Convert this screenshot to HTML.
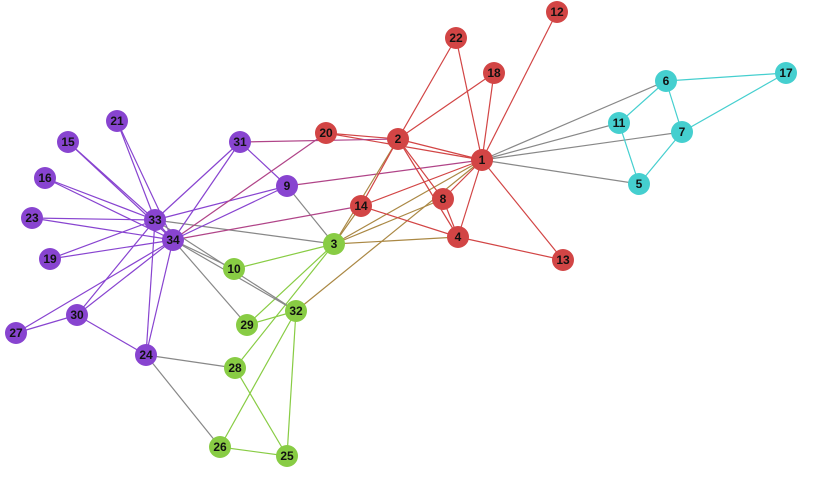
<!DOCTYPE html>
<html><head><meta charset="utf-8"><style>
html,body{margin:0;padding:0;background:#fff;}
svg{display:block}
text{font-family:"Liberation Sans",sans-serif;font-size:12px;font-weight:bold;fill:#111;text-anchor:middle;dominant-baseline:central}
</style></head><body>
<svg width="825" height="489" viewBox="0 0 825 489" id="g"></svg>
<script>
const P={1:[482,160],2:[398,139],3:[334,244],4:[458,237],5:[639,184],6:[666,81],7:[682,132],8:[443,199],9:[287,186],10:[234,269],11:[619,123],12:[557,12],13:[563,260],14:[361,206],15:[68,142],16:[45,178],17:[786,73],18:[494,73],19:[50,259],20:[326,133],21:[117,121],22:[456,38],23:[32,218],24:[146,355],25:[287,456],26:[220,447],27:[16,333],28:[235,368],29:[247,325],30:[77,315],31:[240,142],32:[296,311],33:[155,220],34:[173,240]};
const G={};[1,2,4,8,12,13,14,18,20,22].forEach(n=>G[n]='r');[5,6,7,11,17].forEach(n=>G[n]='c');[3,10,25,26,28,29,32].forEach(n=>G[n]='g');[9,15,16,19,21,23,24,27,30,31,33,34].forEach(n=>G[n]='p');
const NC={r:'#d24545',c:'#45cfcf',g:'#88cc44',p:'#8844d0'};
const EC={rr:'#d24545',cc:'#45cfcf',gg:'#88cc44',pp:'#8844d0',cr:'#888',gr:'#aa8844',pr:'#b04488',gp:'#888'};
const A={1:[2,3,4,5,6,7,8,9,11,12,13,14,18,20,22,32],2:[3,4,8,14,18,20,22,31],3:[4,8,9,10,14,28,29,33],4:[8,13,14],5:[7,11],6:[7,11,17],7:[17],9:[31,33,34],10:[34],14:[34],15:[33,34],16:[33,34],19:[33,34],20:[34],21:[33,34],23:[33,34],24:[26,28,30,33,34],25:[26,28,32],26:[32],27:[30,34],29:[32,34],30:[33,34],31:[33,34],32:[33,34],33:[34]};
let s='';
for(const a in A)for(const b of A[a]){const k=[G[a],G[b]].sort().join('');const [x1,y1]=P[a],[x2,y2]=P[b];s+=`<line x1="${x1}" y1="${y1}" x2="${x2}" y2="${y2}" stroke="${EC[k]||'#888'}" stroke-width="1.2"/>`;}
for(const n in P){const [x,y]=P[n];s+=`<circle cx="${x}" cy="${y}" r="11" fill="${NC[G[n]]}"/><text x="${x}" y="${y}">${n}</text>`;}
document.getElementById('g').innerHTML=s;
</script>
</body></html>
